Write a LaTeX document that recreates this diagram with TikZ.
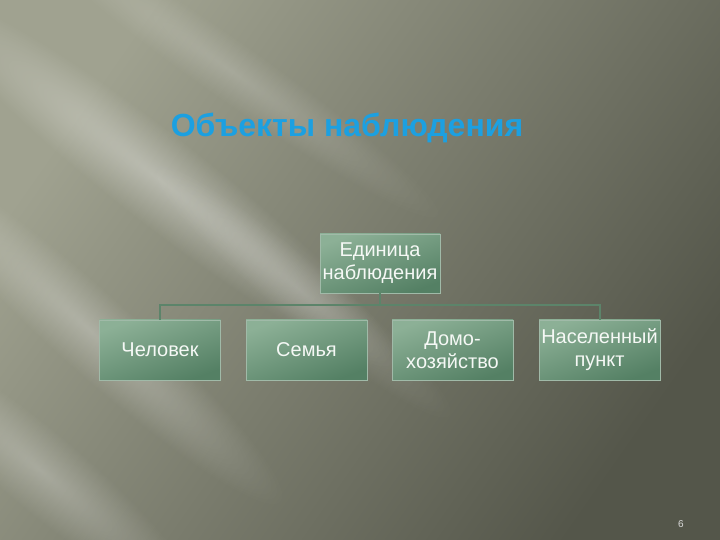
\documentclass[tikz,border=0pt]{standalone}
\usepackage{fontspec}
\setmainfont{Liberation Sans}
\usetikzlibrary{fadings}
\definecolor{bgA}{RGB}{160,162,144}
\definecolor{bgC}{RGB}{84,86,74}
\definecolor{titleblue}{RGB}{28,160,225}
\definecolor{boxlight}{RGB}{140,176,150}
\definecolor{boxdark}{RGB}{84,128,100}
\definecolor{boxedge}{RGB}{160,186,168}
\definecolor{linkgreen}{RGB}{92,132,106}
\definecolor{boxtext}{RGB}{245,248,245}
\tikzfading[name=softoval, inner color=transparent!0, outer color=transparent!100]
\tikzset{
  unitbox/.style={minimum width=121pt, minimum height=60pt, inner sep=0pt,
    draw=boxedge, line width=0.6pt, top color=boxlight, bottom color=boxdark,
    shading angle=20, text=boxtext, align=center,
    font=\fontsize{20}{23}\selectfont},
  link/.style={draw=linkgreen, line width=2pt},
  streak/.style={fill=white, path fading=softoval}
}
\begin{document}
\begin{tikzpicture}[x=1pt,y=1pt]
\useasboundingbox (0,0) rectangle (720,540);
% background
\shade[shading=axis, top color=bgA, bottom color=bgC, shading angle=55] (0,0) rectangle (720,540);
\begin{scope}
\clip (0,0) rectangle (720,540);
\begin{scope}[transform canvas={rotate around={-38:(160,360)}}]
\fill[streak, opacity=0.35] (160,360) ellipse [x radius=300, y radius=45];
\end{scope}
\begin{scope}[transform canvas={rotate around={-42:(90,210)}}]
\fill[streak, opacity=0.28] (90,210) ellipse [x radius=260, y radius=40];
\end{scope}
\begin{scope}[transform canvas={rotate around={-40:(40,70)}}]
\fill[streak, opacity=0.25] (40,70) ellipse [x radius=200, y radius=40];
\end{scope}
\begin{scope}[transform canvas={rotate around={-35:(230,470)}}]
\fill[streak, opacity=0.18] (230,470) ellipse [x radius=260, y radius=30];
\end{scope}
\begin{scope}[transform canvas={rotate around={-40:(300,250)}}]
\fill[streak, opacity=0.18] (300,250) ellipse [x radius=200, y radius=30];
\end{scope}
\end{scope}
% title
\node (title) [text=titleblue, font=\bfseries\fontsize{32}{36}\selectfont] at (347,412) {Объекты наблюдения};
% boxes
\node (top) [unitbox, minimum width=120pt, minimum height=59pt] at (380,276.5) {Единица\\наблюдения};
\node (b1) [unitbox] at (160,190) {Человек};
\node (b2) [unitbox] at (306.5,190) {Семья};
\node (b3) [unitbox] at (452.5,190) {Домо-\\хозяйство};
\node (b4) [unitbox] at (599.5,190) {Населенный\\пункт};
% connectors
\coordinate (bar) at (380,235);
\draw[link] (top.south) -- (bar);
\draw[link] (b1.north) -- (b1.north |- bar) -- (b4.north |- bar) -- (b4.north);
% page number
\node (pg) [text=white!85!black, font=\fontsize{10}{11}\selectfont] at (681,16) {6};
\end{tikzpicture}
\end{document}
